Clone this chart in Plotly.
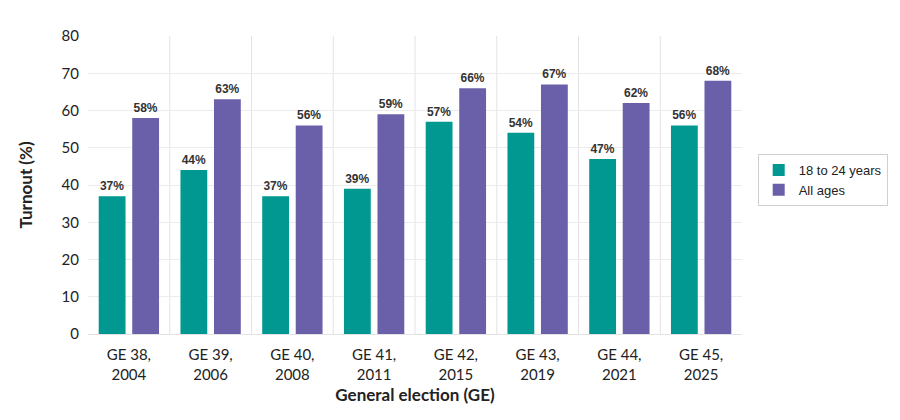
import plotly.graph_objects as go

categories = ["GE 38,<br>2004", "GE 39,<br>2006", "GE 40,<br>2008", "GE 41,<br>2011",
              "GE 42,<br>2015", "GE 43,<br>2019", "GE 44,<br>2021", "GE 45,<br>2025"]
youth = [37, 44, 37, 39, 57, 54, 47, 56]
all_ages = [58, 63, 56, 59, 66, 67, 62, 68]
y_ticks = [0, 10, 20, 30, 40, 50, 60, 70, 80]

teal = "#009890"
purple = "#6a60aa"

fig = go.Figure()
fig.add_trace(go.Bar(
    x=categories, y=youth, name="18 to 24 years",
    marker=dict(color=teal, line=dict(width=0)),
    text=[f"<b>{v}%</b>" for v in youth], textposition="outside",
    textfont=dict(family="Liberation Sans, Arial", size=12, color="#333333"),
    cliponaxis=False,
))
fig.add_trace(go.Bar(
    x=categories, y=all_ages, name="All ages",
    marker=dict(color=purple, line=dict(width=0)),
    text=[f"<b>{v}%</b>" for v in all_ages], textposition="outside",
    textfont=dict(family="Liberation Sans, Arial", size=12, color="#333333"),
    cliponaxis=False,
))

shapes = []
for i in range(len(categories) - 1):
    shapes.append(dict(type="line", xref="x", yref="paper", x0=i + 0.5, x1=i + 0.5,
                       y0=0, y1=1, line=dict(color="#e3e3e3", width=1), layer="below"))

fig.update_layout(
    width=900, height=420,
    margin=dict(l=88, r=150, t=36, b=86),
    plot_bgcolor="white", paper_bgcolor="white",
    barmode="group", bargap=0.18, bargroupgap=0.2,
    shapes=shapes,
    font=dict(family="Lato, Open Sans, sans-serif", color="#222222"),
    xaxis=dict(
        title=dict(text="<b>General election (GE)</b>", font=dict(size=17, family="Lato, sans-serif", color="#222222"), standoff=7),
        tickfont=dict(size=15, family="Lato, sans-serif", color="#222222"),
        ticklabelstandoff=7,
        showgrid=False, showline=True, linecolor="#e3e3e3", linewidth=1,
        ticks="", fixedrange=True,
    ),
    yaxis=dict(
        title=dict(text="<b>Turnout (%)</b>", font=dict(size=17, family="Lato, sans-serif", color="#222222"), standoff=24),
        tickvals=y_ticks, range=[0, 80],
        tickfont=dict(size=15, family="Lato, sans-serif", color="#222222"),
        ticklabelstandoff=8,
        showgrid=True, gridcolor="#ececec", gridwidth=1,
        zeroline=False, showline=False, ticks="",
    ),
    legend=dict(
        x=1.024, y=0.517, xanchor="left", yanchor="middle",
        bordercolor="#d0d0d0", borderwidth=1,
        font=dict(family="Liberation Sans, Arial", size=13, color="#222222"),
        itemwidth=30, tracegroupgap=4,
    ),
)

fig.write_html("out.html")
